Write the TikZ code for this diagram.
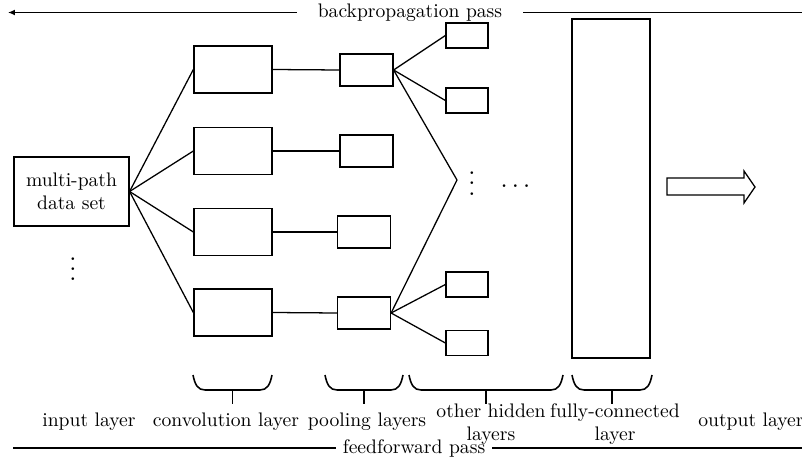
\documentclass[tikz,border=0pt]{standalone}
\usetikzlibrary{arrows.meta}
\tikzset{
  every picture/.style={line width=0.65pt},
  convbox/.style={draw, minimum width=39.8pt, minimum height=24pt, inner sep=0pt},
  poolbox/.style={draw, minimum width=27pt, minimum height=16.3pt, inner sep=0pt},
  hidbox/.style={draw, minimum width=21.4pt, minimum height=12.8pt, inner sep=0pt},
  fcbox/.style={draw, minimum width=39.8pt, minimum height=172.9pt, inner sep=0pt},
  databox/.style={draw, minimum width=58.6pt, minimum height=35.2pt, inner sep=0pt, align=center},
  layername/.style={align=center},
  bracket/.style={line width=0.8pt},
  passarrow/.style={-{Latex[length=3.5pt, width=3pt]}},
}
\newcommand{\layerbrace}[2]{% #1 left x, #2 right x
  \draw[bracket] (#1,375) .. controls (#1+2,385) and (#1+5,390) .. (#1+12,390)
    -- (#2-12,390) .. controls (#2-5,390) and (#2-2,385) .. (#2,375);
  \draw[bracket, line width=1pt] ({(#1+#2)/2},390) -- ++(0,14);}

\begin{document}
\begin{tikzpicture}[x=0.51pt, y=-0.51pt]
  \useasboundingbox (0,0) rectangle (802,460);
  % backpropagation / feedforward passes
  \node[inner xsep=10.5pt] (bp) at (410,12.5) {backpropagation pass};
  \coordinate (bpend) at (8,12.5);
  \coordinate (bpstart) at (802,12.5);
  \draw[passarrow] (bp.west) -- (bpend);
  \draw (bpstart) -- (bp.east);
  \node (ff) at (414,448) {feedforward pass};
  \coordinate (ffstart) at (13,448);
  \coordinate (ffend) at (802,448);
  \draw (ffstart) -- (ff.west);
  \draw (ff.east) -- (ffend);

  % input
  \node[databox] (data) at (71.5,191.5) {multi-path\\data set};
  \node[scale=1.3] (datadots) at (73,261.5) {$\vdots$};

  % convolution and pooling
  \foreach \y [count=\i] in {69.5,151,232,312.5}
    \node[convbox] (conv\i) at (233,\y) {};
  \foreach \x/\y [count=\i] in {366.5/70, 366.5/151, 364/232, 364/313}
    \node[poolbox] (pool\i) at (\x,\y) {};
  \foreach \i in {1,...,4} {
    \draw (data.east) -- (conv\i.west);
    \draw (conv\i.east) -- (pool\i.west);
  }

  % other hidden layers
  \foreach \y [count=\i] in {35.5,100.5,284.5,343}
    \node[hidbox] (hid\i) at (467,\y) {};
  \coordinate (fan) at (457,180);
  \draw (pool1.east) -- (hid1.west);
  \draw (pool1.east) -- (hid2.west);
  \draw (pool1.east) -- (fan);
  \draw (pool4.east) -- (fan);
  \draw (pool4.east) -- (hid3.west);
  \draw (pool4.east) -- (hid4.west);
  \node[scale=1.3] (hiddots) at (472,176) {$\vdots$};
  \node[scale=1.3] (moredots) at (515.5,186.5) {$\cdots$};

  % fully-connected and output
  \node[fcbox] (fc) at (611,188.5) {};
  \draw[fill=white] (667,178) -- (744,178) -- (744,171) -- (755,187)
    -- (744,203) -- (744,195) -- (667,195) -- cycle;

  % braces and layer names
  \layerbrace{193}{272}
  \layerbrace{325}{403}
  \layerbrace{409}{563}
  \layerbrace{572}{652}
  \node[layername] (inname) at (89,422) {input layer};
  \node[layername] (convname) at (226,422) {convolution layer};
  \node[layername] (poolname) at (367,422) {pooling layers};
  \node[layername] (hidname) at (491,424) {other hidden\\layers};
  \node[layername] (fcname) at (615,424) {fully-connected\\layer};
  \node[layername] (outname) at (751,422) {output layer};
\end{tikzpicture}
\end{document}
